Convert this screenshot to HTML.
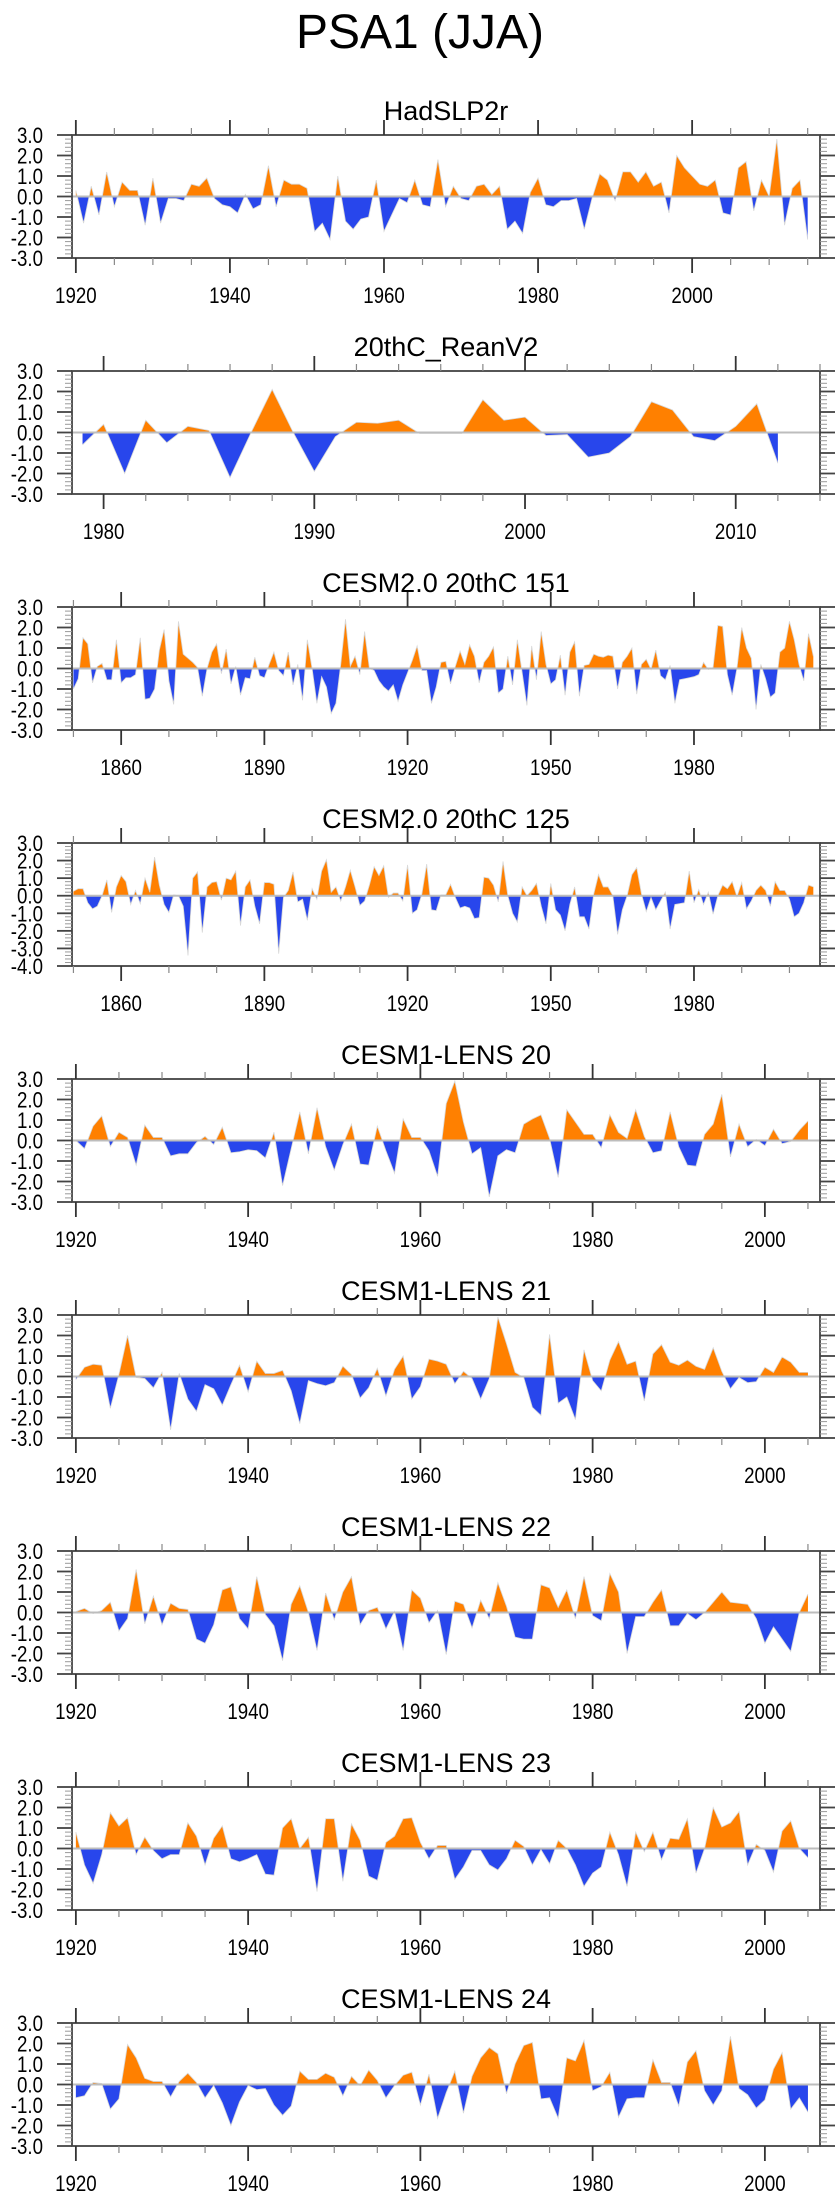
<!DOCTYPE html>
<html><head><meta charset="utf-8"><title>PSA1 (JJA)</title>
<style>
html,body{margin:0;padding:0;background:#fff;}
svg{display:block;font-family:"Liberation Sans",Arial,sans-serif;}
</style></head>
<body>
<svg id="chart" xmlns="http://www.w3.org/2000/svg" width="840" height="2200" viewBox="0 0 840 2200">
<text x="420" y="48" font-size="48" text-anchor="middle" fill="#000">PSA1 (JJA)</text>
</svg>
<script>
const panelTitles = ["HadSLP2r","20thC_ReanV2","CESM2.0 20thC 151","CESM2.0 20thC 125","CESM1-LENS 20","CESM1-LENS 21","CESM1-LENS 22","CESM1-LENS 23","CESM1-LENS 24"];
const startYears = [1920,1979,1850,1850,1920,1920,1920,1920,1920];
const hadslpValues = [0.3,-1.3,0.5,-0.9,1.2,-0.5,0.7,0.3,0.3,-1.4,
0.9,-1.3,-0.1,-0.1,-0.2,0.6,0.5,0.9,-0.1,-0.4,
-0.5,-0.8,0.1,-0.6,-0.4,1.5,-0.5,0.8,0.6,0.6,
0.4,-1.7,-1.3,-2.1,1.0,-1.2,-1.6,-1.1,-1.0,0.8,
-1.7,-0.9,-0.1,-0.3,0.8,-0.4,-0.5,1.8,-0.5,0.5,
-0.1,-0.2,0.5,0.6,0.1,0.5,-1.6,-1.2,-1.8,0.2,
0.9,-0.4,-0.5,-0.2,-0.2,-0.1,-1.6,-0.1,1.1,0.8,
-0.2,1.2,1.2,0.7,1.2,0.5,0.7,-0.8,2.0,1.4,
1.0,0.6,0.5,0.8,-0.8,-0.9,1.4,1.7,-0.7,0.8,
0.0,2.8,-1.4,0.4,0.8,-2.1];
const reanValues = [-0.6,0.4,-2.0,0.6,-0.5,0.3,0.1,-2.2,0.0,2.1,0.0,-1.9,-0.2,0.5,0.45,0.6,-0.05,-0.05,-0.05,1.6,0.6,0.75,-0.15,-0.1,-1.2,-1.0,-0.2,1.5,1.1,-0.2,-0.4,0.3,1.4,-1.5];
const cesm151Values = [-1.0,-0.5,1.5,1.2,-0.7,0.1,0.25,-0.55,-0.55,1.4,
-0.7,-0.45,-0.45,-0.3,1.5,-1.5,-1.45,-1.0,0.9,1.9,
-0.6,-1.75,2.3,0.7,0.5,0.3,0.05,-1.35,0.0,0.8,
1.2,-0.25,0.95,-0.75,0.1,-1.3,-0.45,-0.5,0.55,-0.35,
-0.45,0.2,0.8,-0.1,-0.35,0.8,-0.8,0.2,-1.55,1.4,
0.0,-1.7,-0.4,-0.9,-2.2,-1.7,0.2,2.4,0.1,0.6,
-0.3,1.8,0.0,-0.1,-0.6,-0.9,-1.1,-0.8,-1.6,-0.8,
-0.2,0.4,1.1,-0.1,-0.1,-1.7,-0.9,0.3,0.35,-0.75,
0.1,0.85,0.2,1.15,0.6,-0.7,0.3,0.6,1.05,-1.2,
-1.0,0.6,-0.8,1.4,-0.2,-1.8,1.1,-0.55,1.8,0.2,
-0.75,-0.55,0.65,-1.3,0.8,1.3,-1.35,0.15,0.2,0.7,
0.6,0.55,0.65,0.6,-1.0,0.3,0.6,1.0,-1.25,0.2,
0.45,-0.05,0.9,-0.35,-0.55,0.15,-1.7,-0.55,-0.5,-0.45,
-0.4,-0.3,0.3,-0.05,0.05,2.1,2.05,-0.3,-1.3,0.0,
2.0,1.0,0.5,-2.0,0.2,-0.5,-1.4,-1.2,0.8,1.0,
2.3,1.4,0.2,-0.6,1.7,0.6];
const cesm125Values = [0.25,0.4,0.4,-0.4,-0.75,-0.6,0.0,0.9,-0.95,0.5,
1.15,0.8,-0.5,0.3,-0.45,1.0,0.2,2.2,0.6,-0.5,
-0.95,0.05,0.0,-0.6,-3.4,1.0,1.35,-2.1,0.5,0.75,
0.8,-0.25,1.0,0.9,1.4,-1.7,0.5,0.9,-0.6,-1.6,
0.75,0.75,0.65,-3.3,-0.1,0.3,1.35,-0.35,-0.2,-1.4,
0.4,-0.2,1.4,2.05,0.2,0.5,-0.3,0.5,1.45,0.5,
-0.55,-0.3,0.6,1.65,1.15,1.7,-0.1,0.15,0.15,-0.3,
1.75,-1.0,-0.8,0.1,1.8,-0.8,-0.85,0.05,0.05,0.65,
-0.1,-0.7,-0.6,-0.7,-1.3,-1.25,1.05,1.0,0.6,-0.35,
1.95,0.0,-1.0,-1.5,0.5,0.0,0.3,0.7,-0.6,-1.6,
0.7,-0.8,-1.1,-2.0,-0.5,0.5,-1.2,-1.2,-1.9,0.1,
1.2,0.5,0.5,0.0,-2.2,-0.8,0.0,1.2,1.6,0.1,
-0.9,-0.1,-0.8,-0.3,0.2,-1.9,-0.5,-0.45,-0.4,1.4,
-0.4,0.35,-0.5,0.2,-1.05,0.0,0.6,0.4,0.8,-0.05,
0.75,-0.75,-0.3,0.3,0.6,0.3,-0.6,0.8,0.3,0.3,
-0.2,-1.2,-1.0,-0.4,0.6,0.5];
const lens20Values = [0.0,-0.4,0.7,1.2,-0.3,0.4,0.15,-1.2,0.75,0.15,
0.15,-0.75,-0.65,-0.65,-0.1,0.2,-0.2,0.65,-0.6,-0.55,
-0.45,-0.5,-0.85,0.4,-2.2,-0.4,1.4,-0.65,1.6,-0.3,
-1.45,-0.2,0.8,-1.15,-1.2,0.7,-0.5,-1.6,1.05,0.15,
0.15,-0.5,-1.75,1.8,2.9,0.9,-0.65,-0.35,-2.75,-0.75,
-0.45,-0.6,0.8,1.05,1.25,0.1,-1.8,1.5,0.9,0.3,
0.3,-0.35,1.25,0.4,0.1,1.5,0.2,-0.6,-0.5,1.4,
-0.3,-1.2,-1.25,0.3,0.8,2.25,-0.8,0.8,-0.3,0.05,
-0.25,0.55,-0.15,-0.05,0.5,0.95];
const lens21Values = [-0.15,0.45,0.6,0.55,-1.55,0.1,2.0,-0.05,-0.1,-0.55,
0.2,-2.6,0.15,-1.1,-1.7,-0.4,-0.6,-1.4,-0.4,0.55,
-0.75,0.75,0.15,0.15,0.3,-0.7,-2.3,-0.2,-0.35,-0.45,
-0.3,0.5,0.1,-1.05,-0.55,0.4,-0.95,0.35,1.0,-1.1,
-0.5,0.85,0.75,0.6,-0.35,0.25,-0.1,-1.1,-0.1,2.9,
1.6,0.2,-0.05,-1.5,-1.9,2.05,-1.3,-1.0,-2.1,1.3,
-0.2,-0.7,0.8,1.7,0.6,0.75,-1.2,1.1,1.55,0.7,
0.55,0.8,0.5,0.35,1.4,0.25,-0.6,-0.05,-0.3,-0.25,
0.45,0.2,0.95,0.7,0.2,0.2];
const lens22Values = [0.05,0.2,-0.05,0.1,0.5,-0.9,-0.3,2.1,-0.55,0.8,
-0.6,0.45,0.2,0.15,-1.3,-1.5,-0.6,1.1,1.25,-0.3,
-0.8,1.75,-0.1,-0.65,-2.35,0.4,1.3,0.0,-1.85,0.95,
-0.35,1.0,1.75,-0.6,0.1,0.25,-0.8,0.05,-1.85,1.1,
0.7,-0.5,0.1,-2.05,0.55,0.4,-0.75,0.6,-0.3,1.45,
0.3,-1.2,-1.3,-1.3,1.35,1.2,0.25,1.1,-0.3,1.75,
-0.15,-0.4,1.9,1.0,-2.0,-0.2,-0.2,0.5,1.1,-0.65,
-0.65,-0.05,-0.35,0.0,0.5,1.0,0.5,0.45,0.4,-0.3,
-1.5,-0.7,-1.3,-1.9,0.0,0.9];
const lens23Values = [0.8,-0.8,-1.7,-0.3,1.75,1.1,1.5,-0.3,0.55,-0.1,
-0.5,-0.3,-0.3,1.25,0.6,-0.8,0.5,1.1,-0.5,-0.65,
-0.5,-0.3,-1.25,-1.3,1.0,1.45,0.0,0.55,-2.1,1.45,
1.45,-1.6,1.2,0.4,-1.35,-1.55,0.3,0.6,1.45,1.5,
0.3,-0.5,0.15,0.15,-1.5,-0.9,-0.1,-0.1,-0.8,-1.05,
-0.5,0.4,0.1,-0.8,-0.05,-0.75,0.4,0.0,-0.8,-1.85,
-1.2,-0.9,0.8,-0.3,-1.85,0.8,-0.15,0.8,-0.55,0.5,
0.45,1.45,-1.2,0.0,2.0,1.05,1.25,1.8,-0.8,0.2,
-0.1,-1.15,0.85,1.35,0.0,-0.45];
const lens24Values = [-0.65,-0.55,0.1,0.05,-1.2,-0.7,1.95,1.3,0.3,0.15,
0.15,-0.6,0.15,0.55,0.1,-0.65,-0.05,-0.9,-2.0,-0.85,
-0.05,-0.25,-0.2,-1.0,-1.5,-1.05,0.65,0.25,0.25,0.55,
0.35,-0.55,0.4,-0.05,0.7,0.2,-0.65,-0.05,0.45,0.6,
-1.0,0.5,-1.65,-0.4,0.65,-1.4,0.4,1.3,1.8,1.5,
-0.45,1.0,1.9,2.05,-0.7,-0.65,-1.65,1.3,1.15,2.15,
-0.3,-0.1,0.6,-1.6,-0.7,-0.65,-0.65,1.2,0.1,0.1,
-1.05,1.1,1.65,-0.3,-1.0,-0.3,2.35,-0.2,-0.5,-1.15,
-0.75,0.75,1.55,-1.2,-0.65,-1.35];
const yTickLabels = ["-4.0","-3.0","-2.0","-1.0","0.0","1.0","2.0","3.0"];

const allValues = [hadslpValues,reanValues,cesm151Values,cesm125Values,lens20Values,lens21Values,lens22Values,lens23Values,lens24Values];
const axisCfg = [
 {xmin:1919.5,xmax:2016.6,ymin:-3,major:20,minor:5,first:1920},
 {xmin:1978.5,xmax:2014.0,ymin:-3,major:10,minor:2,first:1980},
 {xmin:1849.7,xmax:2006.4,ymin:-3,major:30,minor:10,first:1850,majorStart:1860},
 {xmin:1849.7,xmax:2006.4,ymin:-4,major:30,minor:10,first:1850,majorStart:1860},
 {xmin:1919.55,xmax:2006.4,ymin:-3,major:20,minor:5,first:1920},
 {xmin:1919.55,xmax:2006.4,ymin:-3,major:20,minor:5,first:1920},
 {xmin:1919.55,xmax:2006.4,ymin:-3,major:20,minor:5,first:1920},
 {xmin:1919.55,xmax:2006.4,ymin:-3,major:20,minor:5,first:1920},
 {xmin:1919.55,xmax:2006.4,ymin:-3,major:20,minor:5,first:1920}
];
const NS = "http://www.w3.org/2000/svg";
const svg = document.getElementById('chart');
const L = 72, R = 820, H = 123;
function mk(tag, attrs, parent){
  const e = document.createElementNS(NS, tag);
  for (const k in attrs) e.setAttribute(k, attrs[k]);
  parent.appendChild(e);
  return e;
}
allValues.forEach((vals, p) => {
  const c = axisCfg[p];
  const top = 135 + 236 * p, bot = top + H;
  const ymax = 3;
  const xs = yr => L + (yr - c.xmin) / (c.xmax - c.xmin) * (R - L);
  const ys = v => bot - (v - c.ymin) / (ymax - c.ymin) * H;
  const g = mk('g', {}, svg);
  
  
  const t = mk('text', {x: 446, y: top - 15, 'font-size': 27, 'text-anchor': 'middle', fill: '#000'}, g);
  t.textContent = panelTitles[p];
  
  
  const cid = 'clip' + p;
  const defs = mk('defs', {}, g);
  const y0 = ys(0);
  const cpA = mk('clipPath', {id: cid + 'a'}, defs);
  mk('rect', {x: L, y: top, width: R - L, height: y0 - top}, cpA);
  const cpB = mk('clipPath', {id: cid + 'b'}, defs);
  mk('rect', {x: L, y: y0, width: R - L, height: bot - y0}, cpB);
  const s = startYears[p];
  let pts = [];
  vals.forEach((v, i) => pts.push(xs(s + i).toFixed(2) + ',' + ys(v).toFixed(2)));
  const poly = xs(s).toFixed(2) + ',' + y0 + ' ' + pts.join(' ') + ' ' + xs(s + vals.length - 1).toFixed(2) + ',' + y0;
  const pos = mk('polygon', {points: poly, fill: '#ff8000', 'clip-path': 'url(#' + cid + 'a)'}, g);
  
  
  const neg = mk('polygon', {points: poly, fill: '#2846ec', 'clip-path': 'url(#' + cid + 'b)'}, g);
  
  
  const line = mk('polyline', {points: pts.join(' '), fill: 'none', stroke: '#d8d8d8', 'stroke-width': 0.8}, g);
  
  
  const zl = mk('line', {x1: L, x2: R, y1: y0, y2: y0, stroke: '#bdbdbd', 'stroke-width': 2}, g);
  
  
  const box = mk('rect', {x: L, y: top, width: R - L, height: H, fill: 'none', stroke: '#444', 'stroke-width': 1.8}, g);
  
  
  for (let v = c.ymin; v <= ymax + 1e-6; v += 0.2) {
    const vv = Math.round(v * 10) / 10;
    const isMaj = Math.abs(vv - Math.round(vv)) < 1e-6;
    const yy = ys(vv), len = isMaj ? 15 : 7;
    mk('line', {x1: L - len, x2: L, y1: yy, y2: yy, stroke: isMaj ? '#444' : '#999', 'stroke-width': isMaj ? 1.8 : 1}, g);
    mk('line', {x1: R, x2: R + len, y1: yy, y2: yy, stroke: isMaj ? '#444' : '#999', 'stroke-width': isMaj ? 1.8 : 1}, g);
    if (isMaj) {
      const lab = mk('text', {x: 0, y: 0, transform: 'translate(43,' + (yy + 8).toFixed(2) + ') scale(0.85,1)', 'font-size': 22, 'text-anchor': 'end', fill: '#000'}, g);
      lab.textContent = yTickLabels[Math.round(vv) + 4];
      
      
    }
  }
  const ms = c.majorStart || c.first;
  for (let yr = Math.ceil(c.xmin / c.minor) * c.minor; yr <= c.xmax; yr += c.minor) {
    const isMaj = ((yr - ms) % c.major + c.major) % c.major === 0;
    const xx = xs(yr), len = isMaj ? 15 : 7;
    mk('line', {x1: xx, x2: xx, y1: top - len, y2: top, stroke: isMaj ? '#333' : '#888', 'stroke-width': isMaj ? 1.8 : 1.2}, g);
    mk('line', {x1: xx, x2: xx, y1: bot, y2: bot + len, stroke: isMaj ? '#333' : '#888', 'stroke-width': isMaj ? 1.8 : 1.2}, g);
    if (isMaj) {
      const lab = mk('text', {x: 0, y: 0, transform: 'translate(' + xx.toFixed(2) + ',' + (bot + 45) + ') scale(0.85,1)', 'font-size': 22, 'text-anchor': 'middle', fill: '#000'}, g);
      lab.textContent = String(yr);
      
      
    }
  }
});
</script>
</body></html>
